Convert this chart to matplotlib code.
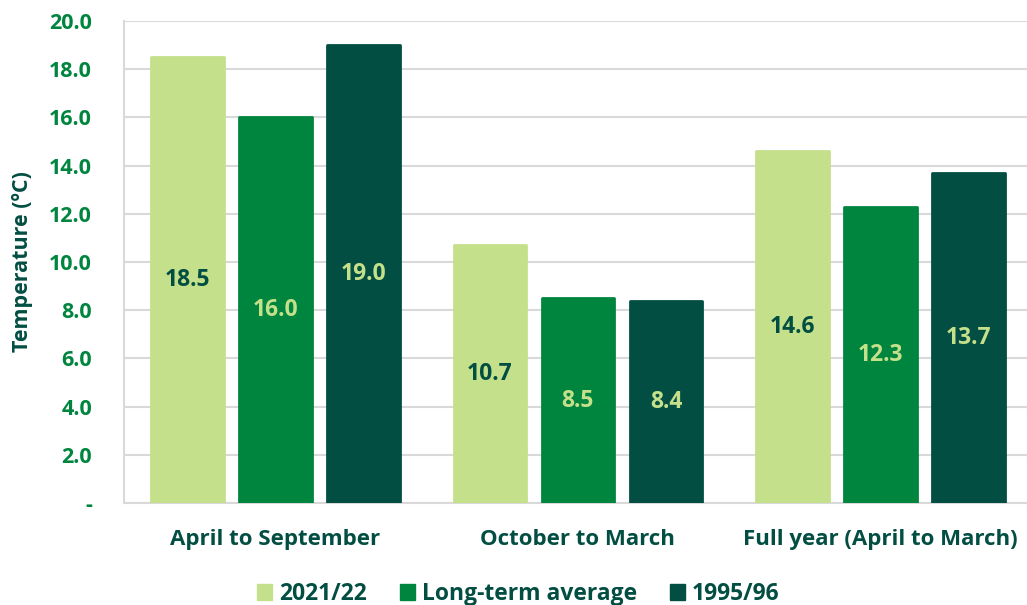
import numpy as np
import matplotlib
matplotlib.use("Agg")
import matplotlib.pyplot as plt
from matplotlib.patches import Patch

plt.rcParams['font.family'] = ['Open Sans', 'DejaVu Sans']
plt.rcParams['font.weight'] = 'bold'

categories = ["April to September", "October to March", "Full year (April to March)"]
series_names = ["2021/22", "Long-term average", "1995/96"]
temp_2122 = [18.5, 10.7, 14.6]
temp_avg = [16.0, 8.5, 12.3]
temp_9596 = [19.0, 8.4, 13.7]

light = "#C5E08A"
mid = "#00853F"
dark = "#024E42"
colours = [light, mid, dark]
label_colours = [dark, light, light]

fig = plt.figure(figsize=(10.27, 6.05), dpi=100)
ax = fig.add_axes([0.1207, 0.1686, 0.884, 0.7967])

x = np.arange(len(categories))
width = 0.24
step = 0.291
for i, vals in enumerate([temp_2122, temp_avg, temp_9596]):
    pos = x + (i - 1) * step
    ax.bar(pos, vals, width, color=colours[i], edgecolor=colours[i],
           linewidth=2, joinstyle="round", zorder=3, label=series_names[i])
    for p, v in zip(pos, vals):
        ax.text(p, v / 2, f"{v:.1f}", ha="center", va="center", fontsize=16.5,
                fontweight="bold", color=label_colours[i], zorder=4)

ax.set_xlim(-0.5, 2.5)
ax.set_ylim(0, 20)
yt = np.arange(0, 21, 2)
ax.set_yticks(yt)
ax.set_yticklabels(["-"] + [f"{v:.1f}" for v in yt[1:]])
ax.tick_params(axis="y", length=0, pad=23, labelsize=15.5, labelcolor=mid)
ax.set_xticks(x)
ax.set_xticklabels(categories)
ax.tick_params(axis="x", length=0, pad=19, labelsize=16, labelcolor=dark)
for lab in ax.get_xticklabels() + ax.get_yticklabels():
    lab.set_fontweight("bold")

ax.grid(axis="y", color="#D9D9D9", linewidth=1.5, zorder=0)
for s in ["top", "right"]:
    ax.spines[s].set_visible(False)
for s in ["left", "bottom"]:
    ax.spines[s].set_color("#D9D9D9")
    ax.spines[s].set_linewidth(1.5)

ax.set_ylabel("Temperature (ºC)", fontsize=15.5, fontweight="bold", color=dark)
ax.yaxis.set_label_coords(-0.1002, 0.5)

handles = [Patch(facecolor=c, edgecolor=c) for c in colours]
fig.legend(handles, series_names, loc="center", bbox_to_anchor=(0.505, 0.018),
           ncol=3, frameon=False, handlelength=0.65, handleheight=0.65,
           handletextpad=0.3, columnspacing=1.45, labelcolor=dark,
           prop={"weight": "bold", "size": 16.5})

fig.savefig("out.png", dpi=100)
